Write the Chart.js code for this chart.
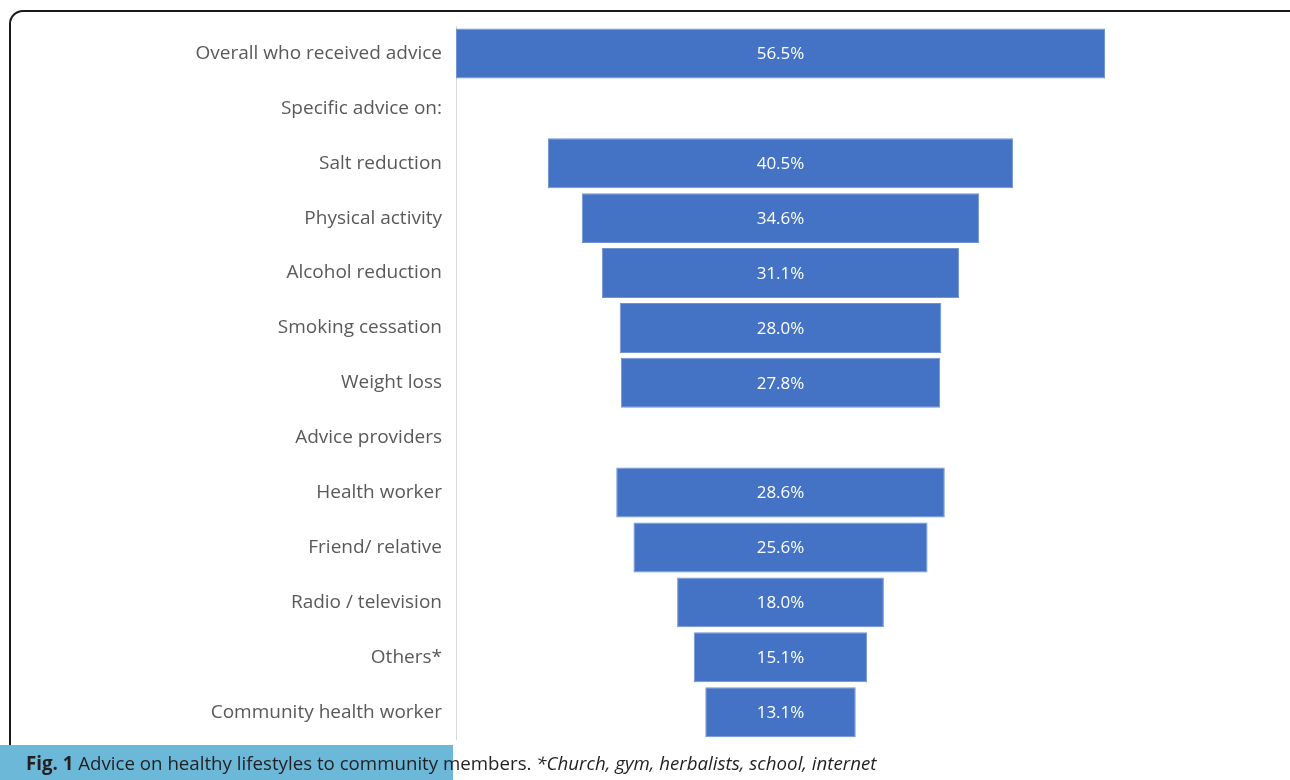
<!DOCTYPE html>
<html lang="en">
<head>
    <meta charset="UTF-8">
    <title>Advice on healthy lifestyles</title>
    <script src="https://cdn.jsdelivr.net/npm/chart.js"></script>
    <style>
        body {
            margin: 0;
            width: 1290px;
            height: 780px;
            overflow: hidden;
            background: #fff;
            position: relative;
            font-family: "Open Sans", Arial, sans-serif;
        }
        .frame {
            position: absolute;
            left: 9px;
            top: 10px;
            width: 1300px;
            height: 820px;
            border: 2px solid #1a1a1a;
            border-radius: 14px;
            box-sizing: border-box;
        }
        .chart-box {
            position: absolute;
            left: 0;
            top: 0;
            width: 1290px;
            height: 757px;
        }
        .caption-bg {
            position: absolute;
            left: 0;
            top: 745px;
            width: 453px;
            height: 35px;
            background: #6cb8d9;
        }
        .caption {
            position: absolute;
            left: 26px;
            top: 750px;
            font-size: 18.7px;
            color: #231f20;
            white-space: nowrap;
        }
        .caption b { font-weight: 700; }
    </style>
</head>
<body>
    <div class="frame"></div>
    <div class="chart-box">
        <canvas id="funnel"></canvas>
    </div>
    <div class="caption-bg"></div>
    <div class="caption"><b>Fig. 1</b> Advice on healthy lifestyles to community members. <i>*Church, gym, herbalists, school, internet</i></div>

    <script>
        // Categorias (filas del embudo)
        const categories = [
            'Overall who received advice',
            'Specific advice on:',
            'Salt reduction',
            'Physical activity',
            'Alcohol reduction',
            'Smoking cessation',
            'Weight loss',
            'Advice providers',
            'Health worker',
            'Friend/ relative',
            'Radio / television',
            'Others*',
            'Community health worker'
        ];

        // Porcentajes (null = fila de encabezado sin barra)
        const percentages = [56.5, null, 40.5, 34.6, 31.1, 28.0, 27.8, null, 28.6, 25.6, 18.0, 15.1, 13.1];

        const maxValue = 56.5;
        const center = maxValue / 2;

        // Barras flotantes centradas para formar el embudo
        const funnelData = percentages.map(v => v === null ? null : [center - v / 2, center + v / 2]);

        // Etiquetas de valor dentro de cada barra
        const valueLabels = {
            id: 'valueLabels',
            afterDatasetsDraw(chart) {
                const ctx = chart.ctx;
                const meta = chart.getDatasetMeta(0);
                ctx.save();
                ctx.fillStyle = '#ffffff';
                ctx.font = '17px "Open Sans", Arial, sans-serif';
                ctx.textAlign = 'center';
                ctx.textBaseline = 'middle';
                meta.data.forEach((bar, i) => {
                    const v = percentages[i];
                    if (v === null) return;
                    const p = bar.getProps(['x', 'base', 'y'], true);
                    ctx.fillText(v.toFixed(1) + '%', (p.x + p.base) / 2, p.y + 1);
                });
                ctx.restore();
            }
        };

        const ctx = document.getElementById('funnel').getContext('2d');
        new Chart(ctx, {
            type: 'bar',
            data: {
                labels: categories,
                datasets: [{
                    data: funnelData,
                    backgroundColor: '#4472c4',
                    borderColor: '#6f93d4',
                    borderWidth: 1,
                    borderSkipped: false,
                    barPercentage: 0.91,
                    categoryPercentage: 1
                }]
            },
            options: {
                indexAxis: 'y',
                responsive: true,
                maintainAspectRatio: false,
                animation: false,
                layout: {
                    padding: { top: 26, bottom: 5, left: 0, right: 185 }
                },
                plugins: {
                    legend: { display: false },
                    tooltip: { enabled: false }
                },
                scales: {
                    x: {
                        display: false,
                        min: 0,
                        max: maxValue
                    },
                    y: {
                        afterFit(scale) { scale.width = 456; },
                        grid: { display: false },
                        border: { display: true, color: '#d9d9d9', width: 1 },
                        ticks: {
                            color: '#595959',
                            padding: 6,
                            font: { family: '"Open Sans", Arial, sans-serif', size: 19 }
                        }
                    }
                }
            },
            plugins: [valueLabels]
        });
    </script>
</body>
</html>
